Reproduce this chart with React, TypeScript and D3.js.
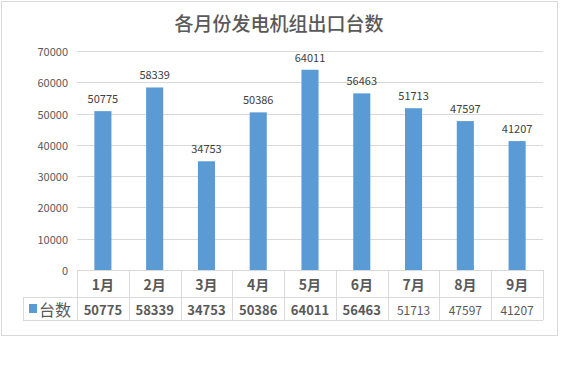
import * as d3 from 'd3';

const months = ['1月', '2月', '3月', '4月', '5月', '6月', '7月', '8月', '9月'];
const counts = [50775, 58339, 34753, 50386, 64011, 56463, 51713, 47597, 41207];
// the last three cells of the table are not bold in the original
const boldCells = [true, true, true, true, true, true, false, false, false];
const yTicks = [0, 10000, 20000, 30000, 40000, 50000, 60000, 70000];
const seriesName = '台数';
const title = '各月份发电机组出口台数';

const font = '"Noto Sans CJK SC", "Noto Sans", sans-serif';
const barColor = '#5b9bd5';
const lineColor = '#d9d9d9';
const textColor = '#595959';

export default function App() {
    const width = 586,
        height = 365;
    const plot = { left: 77, right: 543, top: 51, bottom: 270 };
    const table = { legendLeft: 23, rowMid: 297, bottom: 320 };

    const cols = d3.scaleBand().domain(months).range([plot.left, plot.right]).padding(0);
    const x = d3
        .scaleBand()
        .domain(months)
        .range([plot.left, plot.right])
        .paddingInner(0.67)
        .paddingOuter(0.335);
    const y = d3.scaleLinear().domain([0, 70000]).range([plot.bottom, plot.top]);

    return (
        <svg
            width={width}
            height={height}
            style={{ position: 'absolute', left: 0, top: 0, background: '#fff' }}
            fontFamily={font}
        >
            <rect x={1.5} y={1.5} width={556} height={334} fill="#fff" stroke={lineColor} />

            <text
                x={279}
                y={22}
                textAnchor="middle"
                dominantBaseline="central"
                fontSize={19}
                fontWeight={500}
                fill={textColor}
            >
                {title}
            </text>

            {/* grid + y labels */}
            {yTicks.map((t) => (
                <g key={t}>
                    {t > 0 && (
                        <line
                            x1={plot.left}
                            x2={plot.right}
                            y1={Math.round(y(t)) + 0.5}
                            y2={Math.round(y(t)) + 0.5}
                            stroke={lineColor}
                        />
                    )}
                    <text
                        x={68}
                        y={y(t)}
                        textAnchor="end"
                        dominantBaseline="central"
                        fontSize={11}
                        fill={textColor}
                    >
                        {t}
                    </text>
                </g>
            ))}

            {/* bars */}
            {months.map((m, i) => (
                <g key={m}>
                    <rect
                        x={x(m)}
                        y={y(counts[i])}
                        width={x.bandwidth()}
                        height={y(0) - y(counts[i])}
                        fill={barColor}
                    />
                    <text
                        x={(x(m) ?? 0) + x.bandwidth() / 2}
                        y={y(counts[i]) - 13}
                        textAnchor="middle"
                        dominantBaseline="central"
                        fontSize={11}
                        fill="#404040"
                    >
                        {counts[i]}
                    </text>
                </g>
            ))}

            {/* data table */}
            <g stroke={lineColor} shapeRendering="crispEdges">
                <line x1={plot.left} x2={plot.right} y1={plot.bottom + 0.5} y2={plot.bottom + 0.5} />
                <line x1={table.legendLeft} x2={plot.right} y1={table.rowMid + 0.5} y2={table.rowMid + 0.5} />
                <line x1={table.legendLeft} x2={plot.right} y1={table.bottom + 0.5} y2={table.bottom + 0.5} />
                <line x1={table.legendLeft + 0.5} x2={table.legendLeft + 0.5} y1={table.rowMid} y2={table.bottom} />
                {months.map((m) => (
                    <line
                        key={m}
                        x1={Math.round(cols(m) ?? 0) + 0.5}
                        x2={Math.round(cols(m) ?? 0) + 0.5}
                        y1={plot.bottom}
                        y2={table.bottom}
                    />
                ))}
                <line x1={plot.right + 0.5} x2={plot.right + 0.5} y1={plot.bottom} y2={table.bottom} />
            </g>

            {months.map((m, i) => {
                const cx = (cols(m) ?? 0) + cols.bandwidth() / 2;
                return (
                    <g key={m}>
                        <text
                            x={cx}
                            y={284}
                            textAnchor="middle"
                            dominantBaseline="central"
                            fontSize={14}
                            fontWeight={700}
                            fill={textColor}
                        >
                            {m}
                        </text>
                        <text
                            x={cx}
                            y={309}
                            textAnchor="middle"
                            dominantBaseline="central"
                            fontSize={boldCells[i] ? 13 : 12}
                            fontWeight={boldCells[i] ? 700 : 400}
                            fill={textColor}
                        >
                            {counts[i]}
                        </text>
                    </g>
                );
            })}

            {/* legend key */}
            <rect x={29} y={304} width={8} height={9} fill={barColor} />
            <text x={39} y={309} dominantBaseline="central" fontSize={16} fill={textColor}>
                {seriesName}
            </text>
        </svg>
    );
}
